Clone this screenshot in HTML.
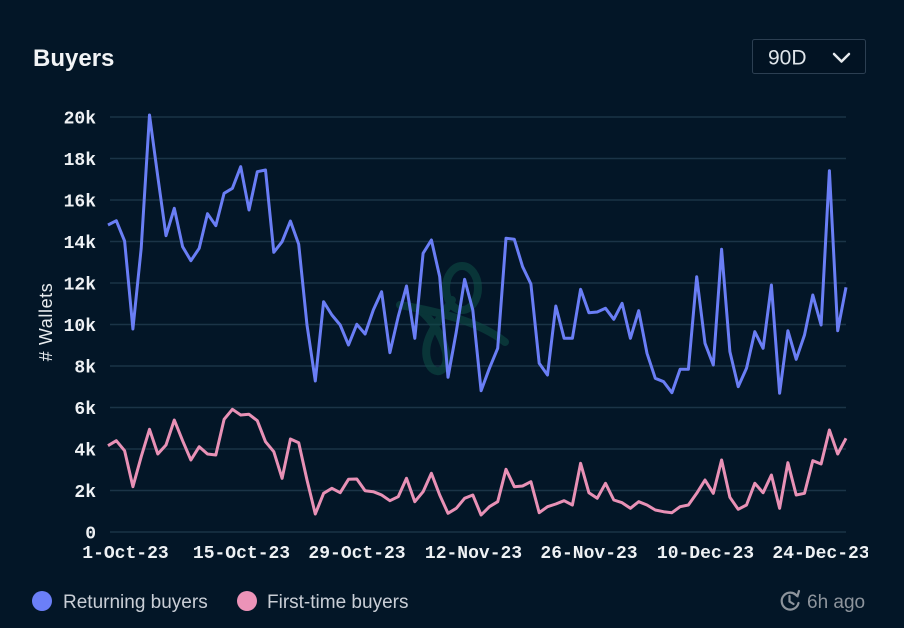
<!DOCTYPE html>
<html><head><meta charset="utf-8"><style>
html,body{margin:0;padding:0;background:#031627;}
svg{display:block;}
</style></head><body>
<svg width="904" height="628" viewBox="0 0 904 628" xmlns="http://www.w3.org/2000/svg">
<rect x="0" y="0" width="904" height="628" fill="#031627"/>
<text x="33" y="66" font-family="Liberation Sans, sans-serif" font-size="24" font-weight="bold" fill="#f2f4f6">Buyers</text>
<rect x="752.5" y="39.5" width="113" height="34" rx="2" fill="#021323" stroke="#2c3f52" stroke-width="1"/>
<text x="768" y="64.5" font-family="Liberation Sans, sans-serif" font-size="21" fill="#dfe5ea">90D</text>
<polyline points="834,54 841.5,61.5 849,54" fill="none" stroke="#e6eaee" stroke-width="2.5" stroke-linecap="round" stroke-linejoin="round"/>
<g stroke="#1b3447" stroke-width="1.5">
<line x1="110" y1="117" x2="846" y2="117"/>
<line x1="110" y1="158.5" x2="846" y2="158.5"/>
<line x1="110" y1="200" x2="846" y2="200"/>
<line x1="110" y1="241.5" x2="846" y2="241.5"/>
<line x1="110" y1="283" x2="846" y2="283"/>
<line x1="110" y1="324.5" x2="846" y2="324.5"/>
<line x1="110" y1="366" x2="846" y2="366"/>
<line x1="110" y1="407.5" x2="846" y2="407.5"/>
<line x1="110" y1="449" x2="846" y2="449"/>
<line x1="110" y1="490.5" x2="846" y2="490.5"/>
<line x1="110" y1="532" x2="846" y2="532"/>
</g>
<g font-family="Liberation Mono, monospace" font-size="18" font-weight="bold" fill="#eef1f4" text-anchor="end">
<text x="96" y="123.5">20k</text>
<text x="96" y="165">18k</text>
<text x="96" y="206.5">16k</text>
<text x="96" y="248">14k</text>
<text x="96" y="289.5">12k</text>
<text x="96" y="331">10k</text>
<text x="96" y="372.5">8k</text>
<text x="96" y="414">6k</text>
<text x="96" y="455.5">4k</text>
<text x="96" y="497">2k</text>
<text x="96" y="538.5">0</text>
</g>
<text transform="translate(52,322) rotate(-90)" text-anchor="middle" font-family="Liberation Sans, sans-serif" font-size="18" letter-spacing="0.6" fill="#e8ecef"># Wallets</text>
<defs><clipPath id="xc"><rect x="0" y="530" width="868" height="40"/></clipPath></defs>
<g clip-path="url(#xc)" font-family="Liberation Mono, monospace" font-size="18" font-weight="bold" fill="#eef1f4" text-anchor="middle">
<text x="125.5" y="558">1-Oct-23</text>
<text x="241.5" y="558">15-Oct-23</text>
<text x="357" y="558">29-Oct-23</text>
<text x="473.5" y="558">12-Nov-23</text>
<text x="589" y="558">26-Nov-23</text>
<text x="705.5" y="558">10-Dec-23</text>
<text x="821" y="558">24-Dec-23</text>
</g>
<g fill="none" stroke="#0e4f47" stroke-width="8" opacity="0.55" stroke-linecap="round">
<ellipse cx="462" cy="288" rx="16" ry="22"/>
<path d="M452,300 C440,320 420,340 428,362 C434,378 450,372 446,352 C442,335 432,320 420,310"/>
<path d="M400,305 C440,312 480,322 505,342"/>
</g>
<polyline fill="none" stroke="#6a7ef5" stroke-width="3" stroke-linejoin="round" points="108.0,225 116.3,220.7 124.6,241 132.9,329 141.2,248.3 149.5,115 157.8,176.7 166.0,235.7 174.3,208.3 182.6,246.7 190.9,260.7 199.2,248.3 207.5,213.7 215.8,225.7 224.1,193.3 232.4,188.3 240.7,166.7 249.0,210 257.3,171.7 265.5,170 273.8,252.3 282.1,241.7 290.4,221 298.7,244.3 307.0,325 315.3,381 323.6,301.7 331.9,315 340.2,325 348.5,345 356.8,324.3 365.1,334 373.3,310 381.6,291.7 389.9,352.7 398.2,316.7 406.5,286 414.8,338.3 423.1,253.3 431.4,240 439.7,276.7 448.0,377.3 456.3,331.7 464.6,279.3 472.8,310 481.1,390.7 489.4,368.3 497.7,348.3 506.0,238.3 514.3,239.3 522.6,266.7 530.9,284 539.2,363.3 547.5,375 555.8,306 564.1,338.3 572.4,338.3 580.6,289.3 588.9,312.7 597.2,312 605.5,308.3 613.8,319.3 622.1,303.3 630.4,338.3 638.7,310.7 647.0,353.3 655.3,378.3 663.6,381.7 671.9,392.7 680.1,369.3 688.4,369.3 696.7,276.7 705.0,343.3 713.3,365 721.6,249.3 729.9,351.7 738.2,386.7 746.5,368.3 754.8,331.7 763.1,348.3 771.4,285 779.6,393.3 787.9,330.7 796.2,359.3 804.5,335 812.8,295 821.1,325 829.4,170.7 837.7,330.7 846.0,287.3"/>
<polyline fill="none" stroke="#e891b6" stroke-width="3" stroke-linejoin="round" points="108.0,445.7 116.3,440.7 124.6,450.7 132.9,486.7 141.2,456.7 149.5,429.3 157.8,454 166.0,445 174.3,420 182.6,440.7 190.9,460 199.2,446.7 207.5,454 215.8,455 224.1,419.3 232.4,409.3 240.7,415 249.0,414.3 257.3,420.7 265.5,441.7 273.8,451.7 282.1,478.3 290.4,439 298.7,442.7 307.0,480 315.3,514 323.6,493.3 331.9,488.3 340.2,492.7 348.5,479.3 356.8,479 365.1,490.7 373.3,491.7 381.6,495 389.9,500.7 398.2,496.7 406.5,478.3 414.8,501.7 423.1,491.7 431.4,473.3 439.7,495 448.0,513.3 456.3,508.3 464.6,498.3 472.8,495 481.1,515 489.4,506.7 497.7,501.7 506.0,469.3 514.3,486.7 522.6,486 530.9,481.7 539.2,512.7 547.5,506.7 555.8,504 564.1,500.7 572.4,505 580.6,463.3 588.9,492.7 597.2,498.3 605.5,483.3 613.8,500 622.1,502.7 630.4,508.3 638.7,501.7 647.0,505 655.3,510 663.6,511.7 671.9,512.7 680.1,506.7 688.4,505 696.7,493.3 705.0,480 713.3,493.3 721.6,460 729.9,497.3 738.2,509.3 746.5,505 754.8,483.3 763.1,492.7 771.4,475 779.6,508.3 787.9,462.7 796.2,495 804.5,493.3 812.8,460.7 821.1,464 829.4,430 837.7,454 846.0,438.3"/>
<circle cx="42" cy="601" r="10" fill="#6b7ff7"/>
<text x="63" y="608" font-family="Liberation Sans, sans-serif" font-size="19" fill="#c9ced6">Returning buyers</text>
<circle cx="247" cy="601" r="10" fill="#ec93b8"/>
<text x="267" y="608" font-family="Liberation Sans, sans-serif" font-size="19" fill="#c9ced6">First-time buyers</text>
<g fill="none" stroke="#8d949c" stroke-width="2.2" stroke-linecap="round">
<path d="M797,596 A8.5,8.5 0 1 0 798.5,603"/>
<polyline points="793,593 797.5,596 799,591"/>
<polyline points="789.5,596 789.5,601.5 793.5,604"/>
</g>
<text x="807" y="608" font-family="Liberation Sans, sans-serif" font-size="19" fill="#8d949c">6h ago</text>
</svg>
</body></html>
